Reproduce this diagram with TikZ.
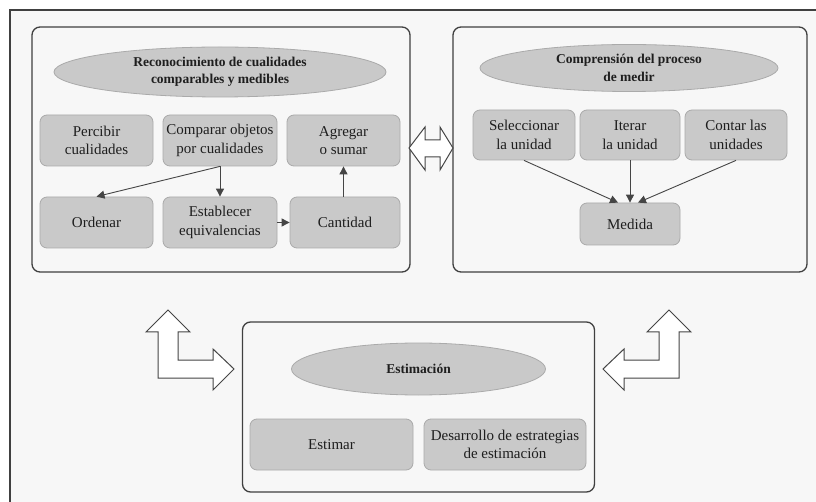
\documentclass[tikz,border=0pt]{standalone}
\usepackage{fontspec}
\setmainfont{Liberation Serif}
\usepackage{tikz}
\usetikzlibrary{arrows.meta}
\usetikzlibrary{shapes.geometric}
\definecolor{panelfill}{HTML}{F7F7F7}
\definecolor{boxfill}{HTML}{C9C9C9}
\definecolor{boxline}{HTML}{AAAAAA}
\definecolor{groupline}{HTML}{404040}
\definecolor{linkline}{HTML}{454545}
\definecolor{textdark}{HTML}{1E1E1E}
\tikzstyle{measure_frame} = [draw = groupline, line width = 1.2]
\tikzstyle{measure_group} = [draw = groupline, line width = 1.3, rounded corners = 8, fill = panelfill, inner sep = 0]
\tikzstyle{measure_box} = [draw = boxline, line width = 0.8, fill = boxfill, rounded corners = 7, align = center, inner sep = 0, text = textdark, font = \fontsize{15}{18.5}\selectfont]
\tikzstyle{measure_title} = [ellipse, draw = boxline, line width = 0.8, fill = boxfill, align = center, inner sep = 0, text = textdark, font = \fontsize{13.5}{17.5}\selectfont\bfseries]
\tikzstyle{measure_link} = [draw = linkline, line width = 0.9, -{Triangle[length = 8, width = 8]}]
\tikzstyle{block_arrow} = [draw = linkline, line width = 1, fill = white, line join = miter]

\begin{document}
\begin{tikzpicture}[x = 1pt, y = -1pt]
        \useasboundingbox (0,0) rectangle (816,502);
        \fill [white] (0,0) rectangle (816,502);
        \fill [panelfill] (10,10) rectangle (816,502);
        \draw [measure_frame] (10,502) -- (10,10) -- (816,10);

        \node [measure_group, minimum width = 378, minimum height = 245] (recon_group) at (221,149.5) {};
        \node [measure_title, minimum width = 332, minimum height = 50] (recon_title) at (220,72) {Reconocimiento de cualidades\\comparables y medibles};
        \node [measure_box, minimum width = 113, minimum height = 51] (percibir) at (96.5,140.5) {Percibir\\cualidades};
        \node [measure_box, minimum width = 114, minimum height = 51] (comparar) at (220,140.5) {Comparar objetos\\por cualidades};
        \node [measure_box, minimum width = 113, minimum height = 51] (agregar) at (343.5,140.5) {Agregar\\o sumar};
        \node [measure_box, minimum width = 113, minimum height = 51] (ordenar) at (96.5,222.5) {Ordenar};
        \node [measure_box, minimum width = 114, minimum height = 51] (establecer) at (220,222.5) {Establecer\\equivalencias};
        \node [measure_box, minimum width = 110, minimum height = 51] (cantidad) at (345,222.5) {Cantidad};
        \draw [measure_link] (comparar.south) -- (ordenar.north);
        \draw [measure_link] (comparar.south) -- (establecer.north);
        \draw [measure_link] (establecer.east) -- (cantidad.west);
        \draw [measure_link] ([xshift = -1.5]cantidad.north) -- (agregar.south);

        \node [measure_group, minimum width = 354, minimum height = 245] (medir_group) at (630,149.5) {};
        \node [measure_title, minimum width = 298, minimum height = 47] (medir_title) at (629,68) {Comprensión del proceso\\de medir};
        \node [measure_box, minimum width = 102, minimum height = 50] (seleccionar) at (524,135) {Seleccionar\\la unidad};
        \node [measure_box, minimum width = 100, minimum height = 50] (iterar) at (630,135) {Iterar\\la unidad};
        \node [measure_box, minimum width = 102, minimum height = 50] (contar) at (736,135) {Contar las\\unidades};
        \node [measure_box, minimum width = 100, minimum height = 42] (medida) at (630,224) {Medida};
        \draw [measure_link] (seleccionar.south) -- ([xshift = -12]medida.north);
        \draw [measure_link] (iterar.south) -- (medida.north);
        \draw [measure_link] (contar.south) -- ([xshift = 8]medida.north);

        \node [measure_group, minimum width = 352, minimum height = 170] (estim_group) at (418.5,407) {};
        \node [measure_title, minimum width = 254, minimum height = 52] (estim_title) at (418.5,369) {Estimación};
        \node [measure_box, minimum width = 163, minimum height = 51] (estimar) at (331.5,444.5) {Estimar};
        \node [measure_box, minimum width = 162, minimum height = 51] (desarrollo) at (505,444.5) {Desarrollo de estrategias\\de estimación};

        \draw [block_arrow] (409,148) -- (425,127) -- (425,140) -- (440,140) -- (440,127) -- (453,148) -- (440,170) -- (440,157) -- (425,157) -- (425,170) -- cycle;
        \draw [block_arrow] (168,310) -- (190,332) -- (178,332) -- (178,360) -- (213,360) -- (213,349) -- (234,369) -- (213,390) -- (213,378) -- (158,378) -- (158,332) -- (146,332) -- cycle;
        \draw [block_arrow] (669,310) -- (691,332) -- (679,332) -- (679,378) -- (624,378) -- (624,390) -- (603,369) -- (624,349) -- (624,360) -- (659,360) -- (659,332) -- (647,332) -- cycle;
    \end{tikzpicture}
\end{document}
